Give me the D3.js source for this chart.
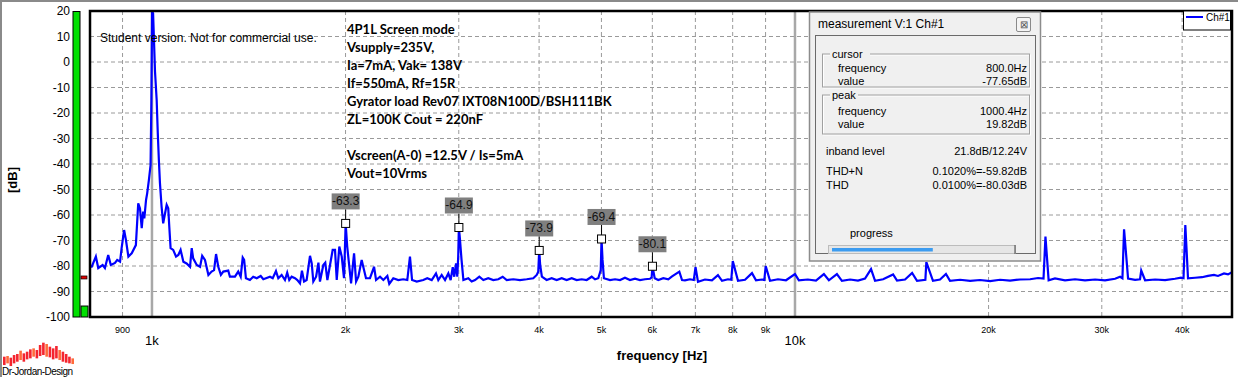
<!DOCTYPE html>
<html>
<head>
<meta charset="utf-8">
<script src="https://cdn.jsdelivr.net/npm/d3@7"></script>
<style>
  body { margin: 0; background: #fff; }
  svg { display: block; font-family: "Liberation Sans", Arial, sans-serif; }
</style>
</head>
<body>
<svg id="chart" width="1238" height="377"></svg>
<script>
// spectrum: frequency in Hz, level in dB
const freq = [801, 806, 818, 825, 838, 845, 855, 863, 876, 883, 892, 897, 905, 911, 919, 930, 944, 952, 958, 964,
  969, 973, 979, 983, 989, 995, 998, 1000.4, 1004, 1011, 1017, 1021, 1025, 1029, 1035, 1041, 1048, 1054, 1060, 1064,
  1069, 1079, 1090, 1099, 1108, 1119, 1132, 1146, 1153, 1159, 1174, 1188, 1197, 1209, 1224, 1238, 1249, 1258, 1268, 1280,
  1291, 1314, 1322, 1346, 1362, 1374, 1384, 1391, 1400, 1420, 1437, 1455, 1476, 1490, 1526, 1541, 1559, 1572, 1591, 1610,
  1623, 1635, 1649, 1669, 1683, 1699, 1711, 1724, 1740, 1761, 1772, 1782, 1800, 1815, 1825, 1847, 1860, 1874, 1892, 1910,
  1926, 1938, 1956, 1973, 1989, 1994, 2000.8, 2012, 2040, 2062, 2077, 2094, 2119, 2131, 2152, 2183, 2215, 2231, 2263, 2290,
  2323, 2339, 2373, 2416, 2459, 2495, 2519, 2538, 2581, 2642, 2680, 2723, 2765, 2788, 2822, 2856, 2890, 2914, 2936, 2952,
  2971, 2984, 2994, 3001.2, 3012, 3030, 3050, 3104, 3142, 3180, 3229, 3276, 3334, 3395, 3456, 3511, 3562, 3647, 3735, 3826,
  3917, 3966, 3988, 4001.6, 4015, 4040, 4109, 4184, 4260, 4337, 4415, 4495, 4576, 4659, 4743, 4829, 4887, 4944, 4988, 5002,
  5020, 5045, 5156, 5250, 5344, 5440, 5539, 5639, 5740, 5844, 5950, 5985, 6002.4, 6051, 6129, 6240, 6353, 6431, 6546, 6609,
  6673, 6743, 6866, 6960, 7003, 7066, 7244, 7428, 7589, 7700, 7867, 7960, 8003, 8154, 8361, 8573, 8697, 8886, 8960, 9004,
  9144, 9410, 9683, 10000, 10140, 10470, 10780, 11090, 11290, 11620, 11830, 12180, 12530, 12850, 13130, 13320, 13710, 14210, 14410, 14830,
  15210, 15480, 15950, 16006, 16390, 16810, 17170, 17420, 18060, 18720, 19400, 20110, 20840, 21600, 22390, 23210, 23880, 24350, 24520, 24800,
  25370, 26300, 27260, 28250, 29290, 30350, 31460, 32030, 32300, 32490, 32960, 33800, 34400, 34550, 35030, 36310, 37630, 38990, 39840, 40200,
  40460, 40850, 41900, 42950, 43880, 44830, 45480, 46470, 47140, 47820];
const level = [-80.3, -80.3, -76.3, -80.8, -79.6, -80.8, -75.7, -79.6, -78.8, -77.6, -78.3, -73, -65.9, -69.8, -76.3, -75, -71.8, -55.4, -57.4, -65.2,
  -58.7, -61.3, -54.1, -51.5, -46.3, -40.4, -14.9, 19.8, 19.1, -3.8, -14.9, -27.8, -38.4, -47.5, -56.7, -63.3, -59.3, -56, -57.4, -64.6,
  -73, -73.7, -76.3, -75.7, -73.7, -78.3, -79, -80.3, -73, -77, -79.6, -80.3, -76, -77.6, -83.5, -82.2, -81.6, -75.3, -80.3, -83.5,
  -82.2, -81.8, -84.2, -84.2, -82.2, -84.2, -76.7, -77.6, -84.8, -85.5, -84.2, -84.8, -83.9, -85.2, -84.2, -84.8, -82, -84.8, -83.5, -85.5,
  -82.6, -85.5, -84.2, -84.8, -85.5, -86.8, -81.8, -86.1, -85.5, -76, -79, -86.1, -84.2, -78.7, -86.1, -79.6, -78.7, -85.5, -79.6, -73.7,
  -73.7, -85.5, -72.4, -76.3, -84.8, -76.3, -63.3, -72.4, -86.8, -75, -86.1, -84.2, -77.6, -80.3, -84.8, -84.8, -80.3, -85.5, -84.2, -85.5,
  -83.9, -87, -84.8, -85.5, -85.2, -85.5, -76.3, -85.5, -86.1, -85.5, -84.8, -85.5, -82.9, -85.5, -83.5, -85.5, -82.9, -85.5, -80.5, -84.2,
  -79, -84.2, -76.3, -64.9, -69.2, -77.6, -85.5, -84.8, -86.1, -85.5, -84.2, -85.5, -84.8, -85.5, -85.2, -84.2, -85.5, -85.2, -85.5, -85.2,
  -84.8, -83.5, -82.2, -73.9, -79.6, -84.2, -85.5, -84.8, -85.5, -84.8, -85.5, -84.8, -85.5, -85.2, -85.5, -84.2, -85.2, -84.8, -81.6, -69.4,
  -77.6, -84.8, -85.5, -85.2, -85.5, -84.6, -85.5, -85, -85.5, -85.2, -85, -84.5, -80.1, -84.8, -85.5, -84.8, -85.2, -84.2, -82.9, -82.2,
  -85.5, -85.6, -85.2, -85.5, -80.4, -86.2, -85.3, -85.6, -83.6, -85.8, -85.2, -85.4, -78.1, -85.8, -85.4, -82.8, -85.6, -85.3, -85.5, -80,
  -85.8, -85.2, -85.6, -83.2, -85.6, -85.3, -85.7, -83.2, -85.6, -83.2, -85.8, -85.3, -85.7, -84.9, -81.2, -85.8, -85.2, -83.3, -85.7, -85.3,
  -82.7, -85.8, -85.4, -78.5, -85.8, -85.3, -83.1, -85.8, -85.4, -85.8, -85.5, -85.9, -85.4, -85.7, -85.3, -85.2, -84.7, -84.9, -68.5, -85.6,
  -84.9, -85.6, -85.2, -85.6, -85.3, -85.6, -85, -84.2, -84.8, -65.6, -84.9, -85.4, -85.2, -81.8, -85.6, -85.3, -85.5, -85, -84.6, -84.8,
  -63.9, -84.8, -84.6, -84.4, -83.9, -83.5, -83.9, -82.9, -83.3, -82.4];

// harmonic markers
const markerFreq = [2000.8, 3001.2, 4001.6, 5002, 6002.4];
const markerLevel = [-63.3, -64.9, -73.9, -69.4, -80.1];

const yTicks = [20, 10, 0, -10, -20, -30, -40, -50, -60, -70, -80, -90, -100];
const xMinorTicks = [900, 2000, 3000, 4000, 5000, 6000, 7000, 8000, 9000, 20000, 30000, 40000];
const xMinorLabels = ["900", "2k", "3k", "4k", "5k", "6k", "7k", "8k", "9k", "20k", "30k", "40k"];
const xMajorTicks = [1000, 10000];
const xMajorLabels = ["1k", "10k"];

// level meters on the left (dB) and peak hold
const meterLevel = [19.8, -95.7];
const meterHold = -84.5;

const notes = ["4P1L Screen mode", "Vsupply=235V,", "Ia=7mA, Vak= 138V", "If=550mA, Rf=15R",
  "Gyrator load Rev07 IXT08N100D/BSH111BK", "ZL=100K Cout = 220nF", "", "Vscreen(A-0) =12.5V / Is=5mA", "Vout=10Vrms"];

const cursorRows = [["frequency", "800.0Hz"], ["value", "-77.65dB"]];
const peakRows = [["frequency", "1000.4Hz"], ["value", "19.82dB"]];
const resultRows = [["inband level", "21.8dB/12.24V"], ["THD+N", "0.1020%=-59.82dB"], ["THD", "0.0100%=-80.03dB"]];
const progressDone = 0.56;

// logo bars (relative heights)
const logoHigh = [30, 32, 27, 35, 38, 48, 40, 45, 52, 55, 50, 65, 72, 68, 60, 55, 62, 50, 45, 38, 30, 25];
const logoLow = [5, 10, 2, 10, 15, 20, 15, 22, 25, 30, 25, 32, 35, 30, 28, 22, 25, 20, 15, 12, 10, 8];

const svg = d3.select("#chart");
const W = 1238, H = 377;
const pL = 90, pR = 1232, pT = 11, pB = 317;

svg.append("rect").attr("width", W).attr("height", H).attr("fill", "#fff");
// window frame edges
svg.append("path").attr("d", `M1,${H} V1 H${W}`).attr("fill", "none").attr("stroke", "#8a8a8a").attr("stroke-width", 2);

const x = d3.scaleLog().domain([801, 47820]).range([pL, pR]);
const y = d3.scaleLinear().domain([-100, 20]).range([pB, pT]);

// grid
const grid = svg.append("g");
grid.append("g").selectAll("line")
  .data(yTicks.filter(d => d > -100 && d < 20))
  .join("line")
  .attr("x1", pL).attr("x2", pR)
  .attr("y1", d => y(d)).attr("y2", d => y(d))
  .attr("stroke", "#9a9a9a").attr("stroke-dasharray", "4,3");
grid.append("g").selectAll("line")
  .data(xMinorTicks)
  .join("line")
  .attr("x1", d => x(d)).attr("x2", d => x(d))
  .attr("y1", pT).attr("y2", pB)
  .attr("stroke", "#9a9a9a").attr("stroke-dasharray", "4,3");
grid.append("g").selectAll("line")
  .data(xMajorTicks)
  .join("line")
  .attr("x1", d => x(d)).attr("x2", d => x(d))
  .attr("y1", pT).attr("y2", pB)
  .attr("stroke", "#a8a8a8").attr("stroke-width", 2.5);

// spectrum
svg.append("clipPath").attr("id", "plotclip")
  .append("rect").attr("x", pL).attr("y", pT).attr("width", pR - pL).attr("height", pB - pT);

const line = d3.line()
  .x((d, i) => x(freq[i]))
  .y(d => y(d));

svg.append("path")
  .datum(level)
  .attr("clip-path", "url(#plotclip)")
  .attr("fill", "none")
  .attr("stroke", "#0000ff")
  .attr("stroke-width", 2.2)
  .attr("d", line);

// plot border
svg.append("rect")
  .attr("x", pL).attr("y", pT).attr("width", pR - pL).attr("height", pB - pT)
  .attr("fill", "none").attr("stroke", "#000").attr("stroke-width", 2.5);

// y axis labels
svg.append("g").selectAll("text")
  .data(yTicks)
  .join("text")
  .attr("x", 70).attr("y", d => y(d)).attr("dy", "0.36em")
  .attr("text-anchor", "end").attr("font-size", 12).attr("fill", "#000")
  .text(d => d);

svg.append("text")
  .attr("transform", "translate(17,180) rotate(-90)")
  .attr("text-anchor", "middle").attr("font-size", 13).attr("font-weight", "bold")
  .text("[dB]");

// x axis labels
svg.append("g").selectAll("text")
  .data(xMinorTicks)
  .join("text")
  .attr("x", d => x(d)).attr("y", 332.5)
  .attr("text-anchor", "middle").attr("font-size", 9).attr("fill", "#000")
  .text((d, i) => xMinorLabels[i]);
svg.append("g").selectAll("text")
  .data(xMajorTicks)
  .join("text")
  .attr("x", d => x(d)).attr("y", 344.5)
  .attr("text-anchor", "middle").attr("font-size", 13).attr("fill", "#000")
  .text((d, i) => xMajorLabels[i]);

svg.append("text")
  .attr("x", 662).attr("y", 360)
  .attr("text-anchor", "middle").attr("font-size", 13).attr("font-weight", "bold")
  .text("frequency [Hz]");

// level meters
svg.append("rect").attr("x", 73).attr("y", y(meterLevel[0])).attr("width", 7).attr("height", pB - y(meterLevel[0]))
  .attr("fill", "#00e000").attr("stroke", "#000").attr("stroke-width", 1);
svg.append("rect").attr("x", 81).attr("y", y(meterLevel[1])).attr("width", 7).attr("height", pB - y(meterLevel[1]))
  .attr("fill", "#00e000").attr("stroke", "#000").attr("stroke-width", 1);
svg.append("rect").attr("x", 81).attr("y", y(meterHold) - 1.5).attr("width", 6).attr("height", 3)
  .attr("fill", "#e00000").attr("stroke", "#000").attr("stroke-width", 0.7);

// watermark + notes
svg.append("text").attr("x", 100).attr("y", 42).attr("font-size", 12).text("Student version. Not for commercial use.");

svg.append("g").selectAll("text")
  .data(notes)
  .join("text")
  .attr("x", 347).attr("y", (d, i) => 34 + i * 18)
  .attr("font-family", "Lato, 'Open Sans', sans-serif")
  .attr("font-weight", "bold").attr("font-size", 13).attr("fill", "#000")
  .text(d => d);

// harmonic markers
const mk = svg.append("g").selectAll("g")
  .data(markerLevel)
  .join("g")
  .attr("transform", (d, i) => `translate(${x(markerFreq[i])},${y(d)})`);
mk.append("line").attr("x1", 0).attr("x2", 0).attr("y1", -14).attr("y2", -4).attr("stroke", "#000");
mk.append("rect").attr("x", -14).attr("y", -30).attr("width", 28).attr("height", 16).attr("fill", "#7f7f7f");
mk.append("text").attr("x", 0).attr("y", -18).attr("text-anchor", "middle").attr("font-size", 12).attr("fill", "#111")
  .text(d => d.toFixed(1));
mk.append("rect").attr("x", -4).attr("y", -4).attr("width", 8).attr("height", 8)
  .attr("fill", "#fff").attr("stroke", "#000").attr("stroke-width", 1);

// legend
const lg = svg.append("g");
lg.append("rect").attr("x", 1183.5).attr("y", 11).attr("width", 47).attr("height", 19).attr("fill", "#fff").attr("stroke", "#000");
lg.append("line").attr("x1", 1186).attr("x2", 1203).attr("y1", 17).attr("y2", 17).attr("stroke", "#0000ff").attr("stroke-width", 2);
lg.append("text").attr("x", 1206).attr("y", 21).attr("font-size", 10).text("Ch#1");

// measurement window
const pw = svg.append("g").attr("font-size", 11).attr("fill", "#000");
pw.append("rect").attr("x", 809.5).attr("y", 12).attr("width", 231).attr("height", 249)
  .attr("fill", "#f0f0f0").attr("stroke", "#8c8c8c").attr("stroke-width", 1.5);
pw.append("text").attr("x", 818).attr("y", 28).attr("font-size", 12).attr("fill", "#000").text("measurement V:1 Ch#1");
pw.append("rect").attr("x", 1016.5).attr("y", 17.5).attr("width", 14).attr("height", 14)
  .attr("fill", "#f4f4f4").attr("stroke", "#8a8a8a").attr("rx", 1.5);
pw.append("text").attr("x", 1023.5).attr("y", 28).attr("text-anchor", "middle").attr("font-size", 10).attr("fill", "#555").text("⊠");
pw.append("rect").attr("x", 815.5).attr("y", 35.5).attr("width", 220).attr("height", 218)
  .attr("fill", "#f0f0f0").attr("stroke", "#6a6a6a").attr("stroke-width", 1);

function groupBox(y0, y1, label) {
  pw.append("rect").attr("x", 823.5).attr("y", y0 + 1).attr("width", 207).attr("height", y1 - y0)
    .attr("fill", "none").attr("stroke", "#fff");
  pw.append("rect").attr("x", 822.5).attr("y", y0).attr("width", 207).attr("height", y1 - y0)
    .attr("fill", "none").attr("stroke", "#a0a0a0");
  pw.append("rect").attr("x", 830).attr("y", y0 - 5).attr("width", label.length * 6 + 4).attr("height", 10).attr("fill", "#f0f0f0");
  pw.append("text").attr("x", 832).attr("y", y0 + 4).text(label);
}
groupBox(54, 87, "cursor");
groupBox(95, 134, "peak");

pw.append("g").selectAll("g")
  .data(cursorRows.map((r, i) => [r, 72 + i * 13]).concat(peakRows.map((r, i) => [r, 115 + i * 13])))
  .join("g")
  .call(g => g.append("text").attr("x", 838).attr("y", d => d[1]).text(d => d[0][0]))
  .call(g => g.append("text").attr("x", 1027).attr("y", d => d[1]).attr("text-anchor", "end").text(d => d[0][1]));

const resY = [155, 175, 189];
pw.append("g").selectAll("g")
  .data(resultRows)
  .join("g")
  .call(g => g.append("text").attr("x", 826).attr("y", (d, i) => resY[i]).text(d => d[0]))
  .call(g => g.append("text").attr("x", 1027).attr("y", (d, i) => resY[i]).attr("text-anchor", "end").text(d => d[1]));

pw.append("text").attr("x", 850).attr("y", 237).text("progress");
const track = d3.scaleLinear().domain([0, 1]).range([832, 1012]);
pw.append("rect").attr("x", 828.5).attr("y", 245.5).attr("width", 187).attr("height", 8)
  .attr("fill", "#e6e6e6").attr("stroke", "#bcbcbc");
pw.append("line").attr("x1", 1015).attr("x2", 1015).attr("y1", 245).attr("y2", 254).attr("stroke", "#606060").attr("stroke-width", 1.2);
pw.append("rect").attr("x", track(0)).attr("y", 248).attr("width", track(progressDone) - track(0)).attr("height", 3.5)
  .attr("fill", "#3c9cf0");

// logo
const lx = d3.scaleBand().domain(d3.range(logoHigh.length)).range([3, 74]).paddingInner(0.2);
const ly = d3.scaleLinear().domain([0, 110]).range([366.7, 330]);
svg.append("g").selectAll("rect")
  .data(logoHigh)
  .join("rect")
  .attr("x", (d, i) => lx(i)).attr("width", lx.bandwidth())
  .attr("y", d => ly(d)).attr("height", (d, i) => ly(logoLow[i]) - ly(d))
  .attr("fill", (d, i) => i % 4 === 1 ? "#ff6a3a" : "#f4252f");
svg.append("text").attr("x", 2).attr("y", 375).attr("font-size", 10).attr("textLength", 71).text("Dr-Jordan-Design");
</script>
</body>
</html>
